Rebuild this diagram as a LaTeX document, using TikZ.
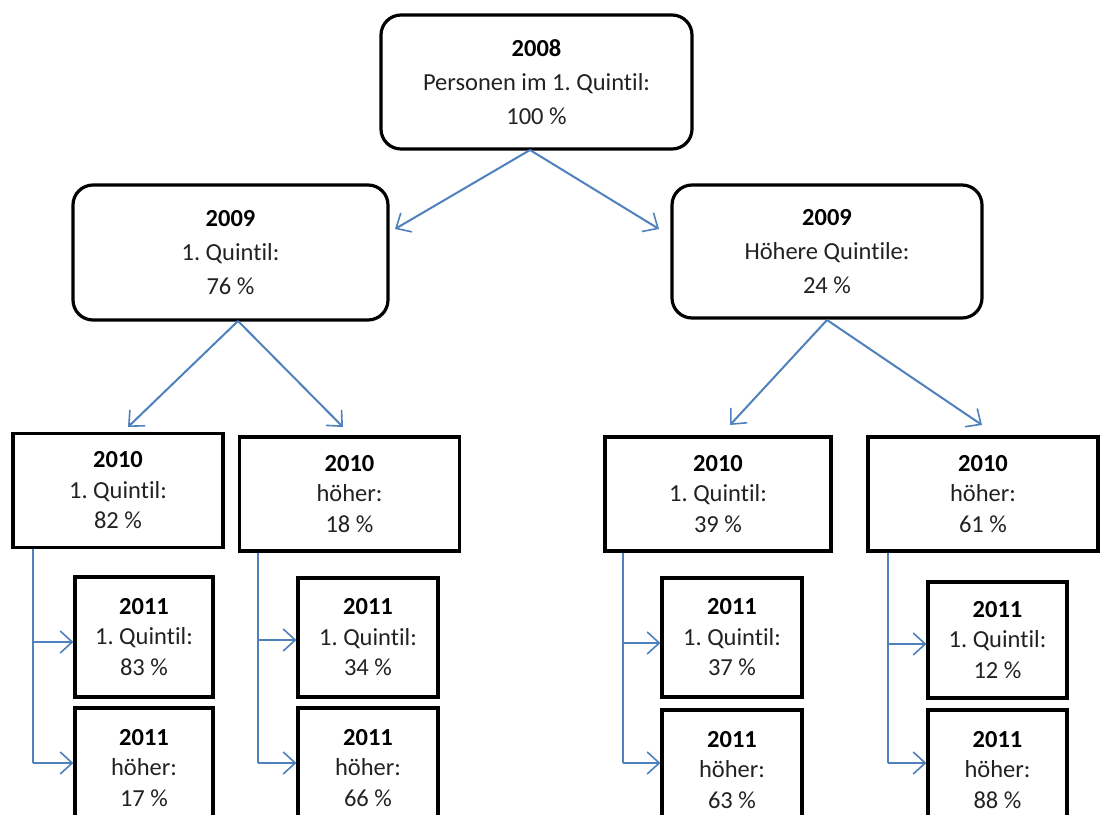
\documentclass[tikz,border=0pt]{standalone}
\usepackage{fontspec}
\setmainfont{Carlito}[Ligatures=NoCommon]
\usetikzlibrary{arrows.meta}
\definecolor{conn}{HTML}{4F81BD}
\definecolor{txt}{HTML}{222222}
\frenchspacing
\begin{document}
\begin{tikzpicture}[x=1pt,y=-1pt,
  rbox/.style={draw=black,line width=3.2pt,rounded corners=20pt,inner sep=0pt,align=center,text=txt,font=\fontsize{24.5}{34}\selectfont},
  sbox/.style={draw=black,line width=3.2pt,inner sep=0pt,align=center,text=txt,font=\fontsize{24.5}{30.5}\selectfont},
  bl/.style={draw=conn,line width=2pt,-{Straight Barb[length=12pt,width=22pt,line width=1.6pt]}},
  blp/.style={draw=conn,line width=2.2pt}
]
\useasboundingbox (0,0) rectangle (1100,814);
\clip (0,0) rectangle (1100,814);
\fill[white] (0,0) rectangle (1100,814);

% top level
\node[rbox,minimum width=311pt,minimum height=134pt] (top) at (536.5,82)
  {\textbf{\color{black}2008}\\Personen im 1. Quintil:\\100 \%};
\node[rbox,minimum width=315pt,minimum height=135pt] (a) at (230.5,252.5)
  {\textbf{\color{black}2009}\\1. Quintil:\\76 \%};
\node[rbox,minimum width=310pt,minimum height=133pt] (b) at (827,251.5)
  {\textbf{\color{black}2009}\\Höhere Quintile:\\24 \%};

% 2010
\node[sbox,minimum width=210pt,minimum height=114pt] (aa) at (118,490.5)
  {\textbf{\color{black}2010}\\1. Quintil:\\82 \%};
\node[sbox,minimum width=220pt,minimum height=114pt] (ab) at (349.5,494)
  {\textbf{\color{black}2010}\\höher:\\18 \%};
\node[sbox,minimum width=226pt,minimum height=114pt] (ba) at (718,494)
  {\textbf{\color{black}2010}\\1. Quintil:\\39 \%};
\node[sbox,minimum width=230pt,minimum height=114pt] (bb) at (983,494)
  {\textbf{\color{black}2010}\\höher:\\61 \%};

% 2011
\node[sbox,minimum width=138pt,minimum height=120pt] (aaa) at (144,637)
  {\textbf{\color{black}2011}\\1. Quintil:\\83 \%};
\node[sbox,minimum width=138pt,minimum height=120pt] (aab) at (144,768)
  {\textbf{\color{black}2011}\\höher:\\17 \%};
\node[sbox,minimum width=140pt,minimum height=119pt] (aba) at (368,637.5)
  {\textbf{\color{black}2011}\\1. Quintil:\\34 \%};
\node[sbox,minimum width=140pt,minimum height=120pt] (abb) at (368,768)
  {\textbf{\color{black}2011}\\höher:\\66 \%};
\node[sbox,minimum width=140pt,minimum height=119pt] (baa) at (732,637.5)
  {\textbf{\color{black}2011}\\1. Quintil:\\37 \%};
\node[sbox,minimum width=140pt,minimum height=120pt] (bab) at (732,770)
  {\textbf{\color{black}2011}\\höher:\\63 \%};
\node[sbox,minimum width=139pt,minimum height=116pt] (bba) at (997.5,640)
  {\textbf{\color{black}2011}\\1. Quintil:\\12 \%};
\node[sbox,minimum width=139pt,minimum height=120pt] (bbb) at (997.5,770)
  {\textbf{\color{black}2011}\\höher:\\88 \%};

% diagonal connectors
\coordinate (o0) at (530,150);
\coordinate (t0a) at (395,229);
\coordinate (t0b) at (659,229);
\draw[bl] (o0) -- (t0a);
\draw[bl] (o0) -- (t0b);
\coordinate (o1) at (238,321);
\coordinate (t1a) at (128,427);
\coordinate (t1b) at (343,427);
\draw[bl] (o1) -- (t1a);
\draw[bl] (o1) -- (t1b);
\coordinate (o2) at (827,320);
\coordinate (t2a) at (730,425);
\coordinate (t2b) at (982,425);
\draw[bl] (o2) -- (t2a);
\draw[bl] (o2) -- (t2b);

% elbow connectors
\foreach \src/\x/\ya/\yb/\ta/\tb in {aa/33/642/763/aaa/aab, ab/258/640/763/aba/abb, ba/623/643/763/baa/bab, bb/888/644/763/bba/bbb}{
  \coordinate (s-\src) at (\x,{548});
  \coordinate (ja-\src) at (\x,\ya);
  \coordinate (jb-\src) at (\x,\yb);
  \draw[blp] (\src.south -| s-\src) -- (jb-\src);
  \draw[bl] (ja-\src) -- (\ta.west |- ja-\src);
  \draw[bl] (jb-\src) -- (\tb.west |- jb-\src);
}
\end{tikzpicture}
\end{document}
